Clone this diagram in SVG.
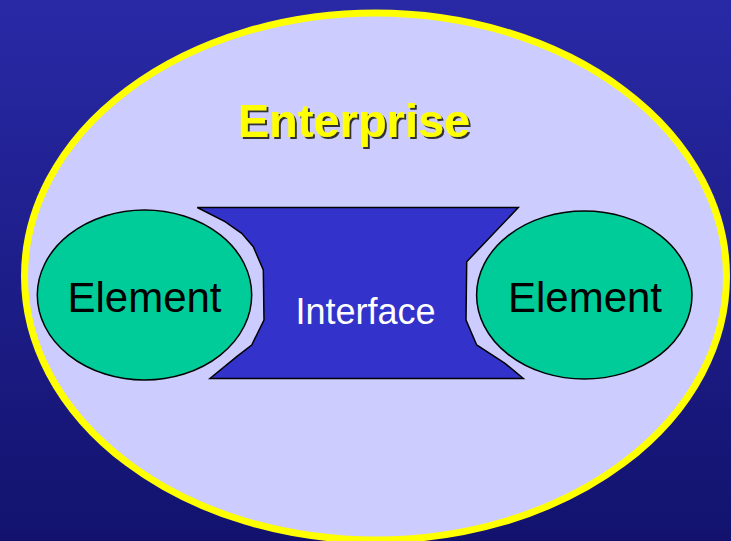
<svg xmlns="http://www.w3.org/2000/svg" width="731" height="541" viewBox="0 0 731 541">
<defs>
<linearGradient id="bg" x1="0" y1="0" x2="0" y2="1">
<stop offset="0" stop-color="#2929a6"/>
<stop offset="1" stop-color="#12126e"/>
</linearGradient>
<filter id="shadow" x="-5%" y="-20%" width="110%" height="140%">
<feDropShadow dx="2" dy="2" stdDeviation="0" flood-color="#333333" flood-opacity="1"/>
</filter>
<style>
.el{fill:#00cc99;stroke:#000;stroke-width:1.5}
.eltxt{font-family:"Liberation Sans",Arial,sans-serif;font-size:42px;fill:#000;text-anchor:middle}
</style>
</defs>
<rect x="0" y="0" width="731" height="541" fill="url(#bg)"/>
<g id="enterprise">
<ellipse cx="375.5" cy="276.5" rx="351" ry="263.5" fill="#ccccff" stroke="#ffff00" stroke-width="7"/>
<text x="354" y="137" font-family="Liberation Sans,Arial,sans-serif" font-weight="bold" font-size="47" fill="#ffff00" text-anchor="middle" filter="url(#shadow)">Enterprise</text>
</g>
<g id="connectors"></g>
<g id="interface">
<polygon points="197.3,207.5 518.3,207.5 466.7,261.7 466,320 476.7,345 505,363.3 523.3,378.5 210,378.5 236.7,356.7 251.7,345 264,320 263.3,270 253.3,246.7 241.7,233.3 225,221.7" fill="#3333cc" stroke="#000" stroke-width="1.5" stroke-linejoin="miter"/>
<text x="365.5" y="324" font-family="Liberation Sans,Arial,sans-serif" font-size="36" fill="#ffffff" text-anchor="middle">Interface</text>
</g>
<g id="element-left">
<ellipse class="el" cx="144.5" cy="295" rx="107.2" ry="85"/>
<text class="eltxt" x="144.5" y="312">Element</text>
</g>
<g id="element-right">
<ellipse class="el" cx="584.3" cy="295" rx="107.7" ry="84"/>
<text class="eltxt" x="585" y="312">Element</text>
</g>
</svg>
